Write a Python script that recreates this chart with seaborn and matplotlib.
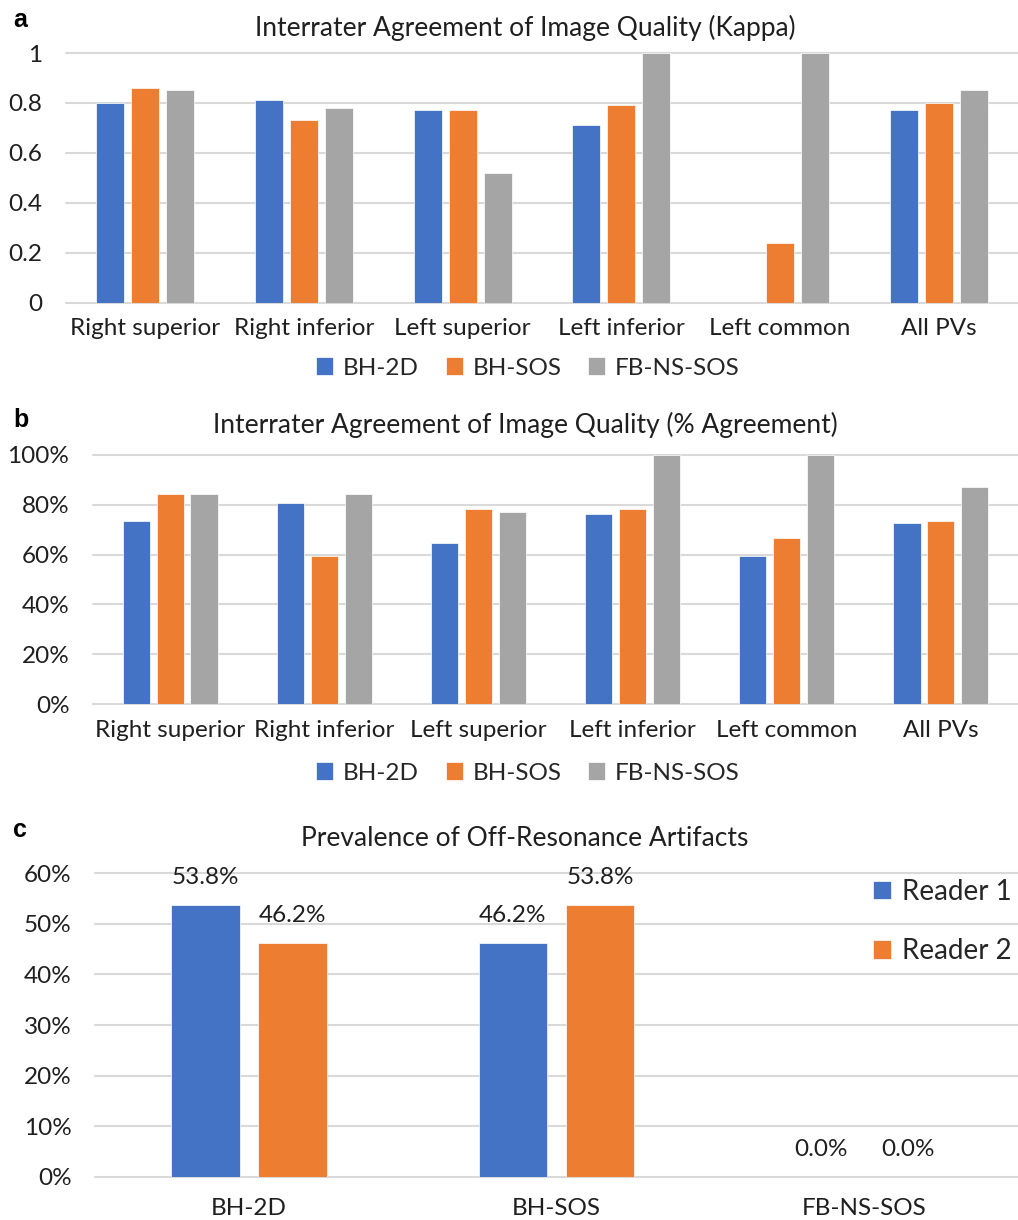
import numpy as np
import pandas as pd
import matplotlib
matplotlib.use("Agg")
import matplotlib.pyplot as plt
import seaborn as sns
from matplotlib.ticker import FuncFormatter

# ---- data -------------------------------------------------------------
veins = ["Right superior", "Right inferior", "Left superior",
         "Left inferior", "Left common", "All PVs"]
methods = ["BH-2D", "BH-SOS", "FB-NS-SOS"]

kappa_bh2d = [0.80, 0.81, 0.77, 0.71, np.nan, 0.77]
kappa_bhsos = [0.86, 0.73, 0.77, 0.79, 0.24, 0.80]
kappa_fbnssos = [0.85, 0.78, 0.52, 1.00, 1.00, 0.85]

agree_bh2d = [73.6, 80.6, 64.6, 76.2, 59.3, 72.6]
agree_bhsos = [84.3, 59.3, 78.1, 78.1, 66.5, 73.6]
agree_fbnssos = [84.3, 84.3, 77.2, 100.0, 100.0, 86.9]

readers = ["Reader 1", "Reader 2"]
artifact_reader1 = [53.8, 46.2, 0.0]
artifact_reader2 = [46.2, 53.8, 0.0]

# ---- tidy tables --------------------------------------------------------
def long_table(cols, names, cats, catname, huename):
    rows = []
    for name, vals in zip(names, cols):
        for c, v in zip(cats, vals):
            rows.append({catname: c, huename: name, "value": v})
    return pd.DataFrame(rows)

df_kappa = long_table([kappa_bh2d, kappa_bhsos, kappa_fbnssos], methods, veins, "vein", "method")
df_agree = long_table([agree_bh2d, agree_bhsos, agree_fbnssos], methods, veins, "vein", "method")
df_art = long_table([artifact_reader1, artifact_reader2], readers, methods, "method", "reader")

# ---- style --------------------------------------------------------------
sns.set_theme(style="white")
plt.rcParams["font.family"] = ["Lato", "DejaVu Sans"]
TXT = "#1f1f1f"
GRID = "#d9d9d9"
FS = 17.5
FS_TITLE = 19
palette3 = ["#4472C4", "#ED7D31", "#A5A5A5"]
palette2 = ["#4472C4", "#ED7D31"]
BAR_KW = dict(edgecolor="white", linewidth=0.5)

W, H = 1018, 1220
fig = plt.figure(figsize=(W / 100, H / 100), dpi=100)

def fig_rect(x0, x1, ytop, ybot):
    return [x0 / W, 1 - ybot / H, (x1 - x0) / W, (ybot - ytop) / H]

def style_axes(ax, ylim, ticks, fmt, pad_x):
    ax.set_ylim(*ylim)
    ax.set_yticks(ticks)
    ax.yaxis.set_major_formatter(FuncFormatter(fmt))
    for s in ax.spines.values():
        s.set_visible(False)
    ax.grid(axis="y", color=GRID, linewidth=1.5)
    ax.set_axisbelow(True)
    for gl in ax.get_ygridlines():
        gl.set_clip_on(False)
    ax.tick_params(axis="both", length=0, labelsize=FS, labelcolor=TXT)
    ax.tick_params(axis="x", pad=pad_x)
    ax.tick_params(axis="y", pad=17)
    ax.set_xlabel("")
    ax.set_ylabel("")

def panel_letter(letter, y):
    fig.text(13 / W, 1 - y / H, letter, ha="left", va="center", fontsize=18,
             fontweight="bold", color="black", family="Liberation Sans")

# ---- panel a: kappa -----------------------------------------------------
ax_a = fig.add_axes(fig_rect(66, 1018, 53, 302.5))
sns.barplot(data=df_kappa, x="vein", y="value", hue="method", order=veins,
            hue_order=methods, palette=palette3, width=0.66, gap=0.2,
            saturation=1, errorbar=None, ax=ax_a, **BAR_KW)
style_axes(ax_a, (0, 1), [0, 0.2, 0.4, 0.6, 0.8, 1.0],
           lambda v, p: f"{v:g}", 11)
sns.move_legend(ax_a, "center", bbox_to_anchor=(528 / W, 1 - 368 / H),
                bbox_transform=fig.transFigure, ncol=3, frameon=False,
                title=None, fontsize=FS, handlelength=0.7, handleheight=0.7,
                handletextpad=0.4, columnspacing=1.1)
fig.text(525 / W, 1 - 28 / H, "Interrater Agreement of Image Quality (Kappa)",
         ha="center", va="center", fontsize=FS_TITLE, color=TXT)
panel_letter("a", 20)

# ---- panel b: percent agreement -----------------------------------------
ax_b = fig.add_axes(fig_rect(93, 1018, 454.7, 704.3))
sns.barplot(data=df_agree, x="vein", y="value", hue="method", order=veins,
            hue_order=methods, palette=palette3, width=0.66, gap=0.2,
            saturation=1, errorbar=None, ax=ax_b, **BAR_KW)
style_axes(ax_b, (0, 100), [0, 20, 40, 60, 80, 100],
           lambda v, p: f"{v:.0f}%", 11)
sns.move_legend(ax_b, "center", bbox_to_anchor=(528 / W, 1 - 773 / H),
                bbox_transform=fig.transFigure, ncol=3, frameon=False,
                title=None, fontsize=FS, handlelength=0.7, handleheight=0.7,
                handletextpad=0.4, columnspacing=1.1)
fig.text(525 / W, 1 - 425 / H, "Interrater Agreement of Image Quality (% Agreement)",
         ha="center", va="center", fontsize=FS_TITLE, color=TXT)
panel_letter("b", 420)

# ---- panel c: off-resonance artifacts -----------------------------------
ax_c = fig.add_axes(fig_rect(95, 1018, 873.3, 1176.7))
sns.barplot(data=df_art, x="method", y="value", hue="reader", order=methods,
            hue_order=readers, palette=palette2, width=0.566, gap=0.21,
            saturation=1, errorbar=None, ax=ax_c, **BAR_KW)
style_axes(ax_c, (0, 60), [0, 10, 20, 30, 40, 50, 60],
           lambda v, p: f"{v:.0f}%", 15)
for cont in ax_c.containers:
    ax_c.bar_label(cont, labels=[f"{b.get_height():.1f}%" for b in cont],
                   padding=12, fontsize=FS, color=TXT)
sns.move_legend(ax_c, "center left", bbox_to_anchor=(873 / W, 1 - 921.5 / H),
                bbox_transform=fig.transFigure, ncol=1, frameon=False,
                title=None, fontsize=20, handlelength=0.65, handleheight=0.65,
                handletextpad=0.4, labelspacing=1.2, borderpad=0,
                borderaxespad=0)
fig.text(525 / W, 1 - 838 / H, "Prevalence of Off-Resonance Artifacts",
         ha="center", va="center", fontsize=FS_TITLE, color=TXT)
panel_letter("c", 830)

fig.savefig("out.png", dpi=100, facecolor="white")
